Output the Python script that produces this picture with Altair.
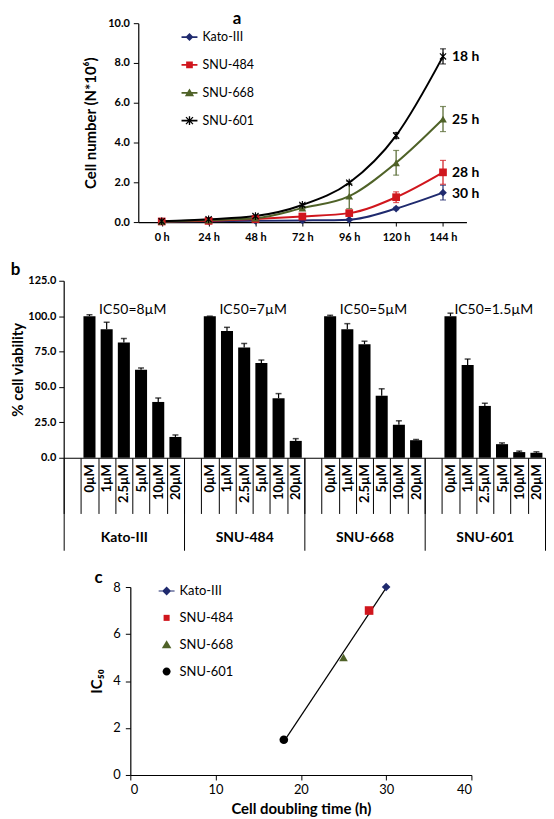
import altair as alt
import pandas as pd

FONT = "Lato"

# ---------------- Panel a : growth curves ----------------
hours = ["0 h", "24 h", "48 h", "72 h", "96 h", "120 h", "144 h"]
series = ["Kato-III", "SNU-484", "SNU-668", "SNU-601"]
series_colors = ["#1f2a6e", "#d0161d", "#4f6228", "#000000"]

kato_cells = [0.03, 0.04, 0.06, 0.08, 0.12, 0.68, 1.48]
snu484_cells = [0.03, 0.06, 0.15, 0.28, 0.45, 1.25, 2.50]
snu668_cells = [0.03, 0.10, 0.19, 0.70, 1.30, 2.98, 5.18]
snu601_cells = [0.04, 0.14, 0.30, 0.86, 1.98, 4.35, 8.33]

kato_err = [0.02, 0.02, 0.02, 0.02, 0.03, 0.06, 0.37]
snu484_err = [0.02, 0.02, 0.03, 0.05, 0.10, 0.27, 0.60]
snu668_err = [0.02, 0.03, 0.05, 0.08, 0.62, 0.62, 0.63]
snu601_err = [0.02, 0.03, 0.04, 0.06, 0.07, 0.15, 0.38]

doubling = [30, 28, 25, 18]

# ---------------- Panel b : viability ----------------
groups = ["Kato-III", "SNU-484", "SNU-668", "SNU-601"]
concs = ["0µM", "1µM", "2.5µM", "5µM", "10µM", "20µM"]
via_kato = [100, 90.7, 81.4, 62.2, 39.4, 14.7]
via_484 = [100, 89.5, 77.9, 66.9, 42.0, 11.9]
via_668 = [100, 90.7, 80.2, 43.8, 23.3, 12.4]
via_601 = [100, 65.5, 36.6, 9.6, 4.0, 3.5]
via_err_kato = [1.0, 5.0, 2.8, 1.2, 2.8, 1.4]
via_err_484 = [0.0, 2.6, 2.8, 2.1, 3.3, 1.6]
via_err_668 = [0.6, 4.0, 2.1, 4.9, 2.8, 0.5]
via_err_601 = [2.1, 4.2, 1.9, 0.9, 0.7, 0.7]

# ---------------- Panel c : IC50 vs doubling ----------------
ic50 = [8, 7, 5, 1.5]


def star_path(k):
    pts = [
        [(-0.15, -1), (0.15, -1), (0.15, 1), (-0.15, 1)],
        [(-0.694, -0.906), (0.906, 0.694), (0.694, 0.906), (-0.906, -0.694)],
        [(0.694, -0.906), (0.906, -0.694), (-0.694, 0.906), (-0.906, 0.694)],
    ]
    out = ""
    for poly in pts:
        out += "M" + "L".join(f"{x*k:.3f},{y*k:.3f}" for x, y in poly) + "Z"
    return out


BAR = "M-1,-0.11L1,-0.11L1,0.11L-1,0.11Z"
legend_paths_a = [
    BAR + "M0,-0.5L0.5,0L0,0.5L-0.5,0Z",
    BAR + "M-0.42,-0.42L0.42,-0.42L0.42,0.42L-0.42,0.42Z",
    BAR + "M0,-0.55L0.58,0.45L-0.58,0.45Z",
    BAR + star_path(0.55),
]

rows_a = []
for name, vals, errs, d in zip(
    series,
    [kato_cells, snu484_cells, snu668_cells, snu601_cells],
    [kato_err, snu484_err, snu668_err, snu601_err],
    doubling,
):
    for h, v, e in zip(hours, vals, errs):
        rows_a.append({
            "series": name, "time": h, "value": v, "lo": v - e, "hi": v + e,
            "label": f"{d} h" if h == hours[-1] else "",
        })
df_a = pd.DataFrame(rows_a)

ya_axis = alt.Axis(values=[0, 2, 4, 6, 8, 10], format=".1f", title="Cell number (N*10⁶)",
                   titleFontSize=15, titleFontWeight="bold", labelFontSize=11,
                   labelFontWeight="bold", tickSize=5, labelPadding=4, titlePadding=9,
                   labelOverlap=False)
ya_scale = alt.Scale(domain=[0, 10])
xa = alt.X("time:O", scale=alt.Scale(type="point", domain=hours, padding=0.5),
           axis=alt.Axis(title=None, labelAngle=0, labelFontSize=11, labelFontWeight="bold",
                         tickSize=4, labelPadding=6))


def ya(field):
    return alt.Y(field, scale=ya_scale, axis=ya_axis)


col_a = alt.Color("series:N", scale=alt.Scale(domain=series, range=series_colors), legend=None)
base_a = alt.Chart(df_a)

lines_a = base_a.mark_line(interpolate="monotone", strokeWidth=2).encode(x=xa, y=ya("value:Q"), color=col_a)
rules_a = base_a.mark_rule(strokeWidth=1.2).encode(x=xa, y=ya("lo:Q"), y2="hi:Q", color=col_a)
caps_hi = base_a.mark_tick(orient="horizontal", size=6, thickness=1.2).encode(x=xa, y=ya("hi:Q"), color=col_a)
caps_lo = base_a.mark_tick(orient="horizontal", size=6, thickness=1.2).encode(x=xa, y=ya("lo:Q"), color=col_a)
points_a = base_a.mark_point(filled=True, size=60, opacity=1).encode(
    x=xa, y=ya("value:Q"), color=col_a,
    shape=alt.Shape("series:N", scale=alt.Scale(domain=series, range=["diamond", "square", "triangle-up", star_path(1)]), legend=None),
)
labels_a = base_a.transform_filter(alt.datum.label != "").mark_text(
    align="left", baseline="middle", dx=9, dy=1, fontSize=14, fontWeight="bold", font=FONT, color="black"
).encode(x=xa, y=ya("value:Q"), text="label:N")

leg_a = alt.Legend(title=None, orient="none", legendX=43.5, legendY=6, symbolSize=256, rowPadding=13,
                   labelOffset=5, labelFontSize=12.5, labelFont=FONT, labelColor="black", padding=0,
                   symbolStrokeWidth=0, symbolOpacity=1)
legend_a = base_a.transform_filter("false").mark_point(filled=True, opacity=1).encode(
    x=xa, y=ya("value:Q"),
    color=alt.Color("series:N", scale=alt.Scale(domain=series, range=series_colors), legend=leg_a),
    shape=alt.Shape("series:N", scale=alt.Scale(domain=series, range=legend_paths_a), legend=leg_a),
)

panel_a = alt.layer(lines_a, rules_a, caps_hi, caps_lo, points_a, labels_a, legend_a).resolve_scale(
    color="independent", shape="independent"
).properties(
    width=330, height=200,
    title=alt.TitleParams("a", anchor="start", frame="group", dx=95, offset=-11, fontSize=17,
                          fontWeight="bold", font=FONT, color="black"),
)

# ---------------- Panel b construction ----------------
slot_domain = []
rows_b = []
for g, vals, errs in zip(groups, [via_kato, via_484, via_668, via_601],
                         [via_err_kato, via_err_484, via_err_668, via_err_601]):
    slot_domain.append(f"{g}|")
    for c, v, e in zip(concs, vals, errs):
        slot_domain.append(f"{g}|{c}")
        rows_b.append({"group": g, "slot": f"{g}|{c}", "value": v, "hi": v + e})
df_b = pd.DataFrame(rows_b)
df_ic = pd.DataFrame({"group": groups, "text": [f"IC50={v:g}µM" for v in ic50]})

yb_axis = alt.Axis(values=[0, 25, 50, 75, 100, 125], format=".1f", title="% cell viability",
                   titleFontSize=15, titleFontWeight="bold", labelFontSize=11, labelFontWeight="bold",
                   tickSize=5, labelPadding=3, titlePadding=2, labelOverlap=False, labelFlush=False)
yb_scale = alt.Scale(domain=[0, 125])
xb_scale = alt.Scale(type="band", domain=slot_domain, paddingInner=0, paddingOuter=0)
xb = alt.X("slot:N", scale=xb_scale,
           axis=alt.Axis(orient="bottom", title=None, labelExpr="split(datum.value, '|')[1]", labelAngle=270,
                         labelAlign="right", labelBaseline="middle", labelFontSize=13,
                         labelFontWeight="bold", labelPadding=-50, tickBand="extent", tickSize=56,
                         labelOverlap=False, labelBound=False))
bars_b = alt.Chart(df_b).mark_bar(color="black", width=alt.RelativeBandSize(0.7)).encode(
    x=xb, y=alt.Y("value:Q", scale=yb_scale, axis=yb_axis))
err_b = alt.Chart(df_b).mark_rule(color="black", strokeWidth=1.2).encode(
    x=alt.X("slot:N", scale=xb_scale, axis=None), y=alt.Y("value:Q", scale=yb_scale, axis=yb_axis), y2="hi:Q")
cap_b = alt.Chart(df_b).mark_tick(orient="horizontal", size=6, thickness=1.5, color="black").encode(
    x=alt.X("slot:N", scale=xb_scale, axis=None), y=alt.Y("hi:Q", scale=yb_scale, axis=yb_axis))
xg = alt.X("group:N", scale=alt.Scale(type="band", domain=groups, paddingInner=0, paddingOuter=0),
           axis=alt.Axis(orient="bottom", title=None, domain=False, labelAngle=0, tickBand="extent",
                         tickSize=93, labelFontSize=14, labelFontWeight="bold", labelPadding=-20))
ic_text = alt.Chart(df_ic).mark_text(fontSize=14, dx=9, baseline="middle", font=FONT, color="black").encode(
    x=xg, y=alt.YDatum(104, type="quantitative", scale=yb_scale, axis=yb_axis), text="text:N")

panel_b = alt.layer(bars_b, err_b, cap_b, ic_text).resolve_scale(x="independent").properties(
    width=484, height=178,
    title=alt.TitleParams("b", anchor="start", frame="bounds", offset=-4, fontSize=17,
                          fontWeight="bold", font=FONT, color="black"),
)

# ---------------- Panel c construction ----------------
df_c = pd.DataFrame({"series": series, "doubling": doubling, "ic50": ic50})
xc = alt.X("doubling:Q", scale=alt.Scale(domain=[0, 40]),
           axis=alt.Axis(values=[0, 10, 20, 30, 40], title="Cell doubling time (h)", titleFontSize=15,
                         titleFontWeight="bold", labelFontSize=13, tickSize=5, labelPadding=4, titlePadding=5))
yc = alt.Y("ic50:Q", scale=alt.Scale(domain=[0, 8]),
           axis=alt.Axis(values=[0, 2, 4, 6, 8], title="IC₅₀", titleFontSize=15, titleFontWeight="bold",
                         labelFontSize=13, tickSize=5, labelPadding=5, titlePadding=8))
fit_c = alt.Chart(df_c).transform_regression("doubling", "ic50").mark_line(color="black", strokeWidth=1.2).encode(x=xc, y=yc)
points_c = alt.Chart(df_c).mark_point(filled=True, size=75, opacity=1).encode(
    x=xc, y=yc,
    color=alt.Color("series:N", scale=alt.Scale(domain=series, range=series_colors), legend=None),
    shape=alt.Shape("series:N", scale=alt.Scale(domain=series, range=["diamond", "square", "triangle-up", "circle"]), legend=None),
)
legend_paths_c = [
    "M-1,-0.07L1,-0.07L1,0.07L-1,0.07ZM0,-0.56L0.56,0L0,0.56L-0.56,0Z",
    "M-0.38,-0.38L0.38,-0.38L0.38,0.38L-0.38,0.38Z",
    "M0,-0.55L0.6,0.45L-0.6,0.45Z",
    "M0.5,0A0.5,0.5,0,1,1,-0.5,0A0.5,0.5,0,1,1,0.5,0Z",
]
leg_c = alt.Legend(title=None, orient="none", legendX=28.5, legendY=-4, symbolSize=256, rowPadding=12,
                   labelOffset=5, labelFontSize=13, labelFont=FONT, labelColor="black", padding=0,
                   symbolStrokeWidth=0, symbolOpacity=1)
legend_c = alt.Chart(df_c).transform_filter("false").mark_point(filled=True, opacity=1).encode(
    x=xc, y=yc,
    color=alt.Color("series:N", scale=alt.Scale(domain=series, range=series_colors), legend=leg_c),
    shape=alt.Shape("series:N", scale=alt.Scale(domain=series, range=legend_paths_c), legend=leg_c),
)
panel_c = alt.layer(fit_c, points_c, legend_c).resolve_scale(color="independent", shape="independent").properties(
    width=343, height=189,
    title=alt.TitleParams("c", anchor="start", frame="group", dx=-36, offset=-6, fontSize=17,
                          fontWeight="bold", font=FONT, color="black"),
)


def spacer(w):
    return alt.Chart(pd.DataFrame({"v": [0]})).mark_point(opacity=0, size=1).encode(
        x=alt.X("v:Q", axis=None), y=alt.Y("v:Q", axis=None)).properties(width=w, height=1)


top = alt.hconcat(spacer(20), panel_a, spacing=0)
bottom = alt.hconcat(spacer(26), panel_c, spacing=0)

chart = alt.vconcat(top, panel_b, bottom, spacing=18).properties(
    padding={"left": 2, "top": 0, "right": 0, "bottom": 0}
).configure_view(
    stroke=None
).configure_axis(
    grid=False, domainColor="black", tickColor="black", labelColor="black", titleColor="black",
    labelFont=FONT, titleFont=FONT, domainWidth=1.2, tickWidth=1
)

chart.save("out.html", embed_options={"renderer": "svg", "actions": False})
